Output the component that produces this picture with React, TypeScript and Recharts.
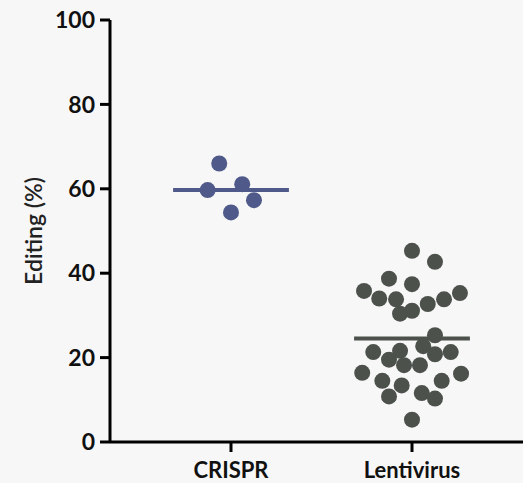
import { ScatterChart, Scatter, XAxis, YAxis, ReferenceLine } from 'recharts';

// group names and their position on the x scale
const categories = ['CRISPR', 'Lentivirus'];
const categoryX = [1, 2];

// CRISPR dots (x is group position + horizontal spread)
const crisprX = [0.935, 0.871, 1.062, 1.127, 1.0];
const crisprY = [66.0, 59.7, 61.1, 57.3, 54.4];

// Lentivirus dots
const lentiX = [
  2.0, 2.127, 1.873, 2.0, 1.735, 1.819, 1.912, 2.265, 2.177, 2.087,
  1.934, 2.0, 2.127, 1.786, 1.934, 2.062, 2.127, 2.214, 1.873, 1.956,
  2.044, 1.725, 1.836, 1.943, 2.164, 2.271, 1.873, 2.054, 2.127, 2.0,
];
const lentiY = [
  45.3, 42.7, 38.7, 37.4, 35.8, 34.0, 33.8, 35.3, 33.8, 32.7,
  30.4, 31.1, 25.3, 21.3, 21.6, 22.7, 20.8, 21.3, 19.5, 18.2,
  18.2, 16.4, 14.5, 13.4, 14.5, 16.2, 10.8, 11.6, 10.3, 5.3,
];

// mean line per group
const means = [59.7, 24.5];

const yTicks = [0, 20, 40, 60, 80, 100];

const BLUE = '#4f5a8a';
const GRAY = '#4c514c';
const FONT = 'Lato, "Open Sans", sans-serif';

const crisprData = crisprX.map((x, i) => ({ x, y: crisprY[i] }));
const lentiData = lentiX.map((x, i) => ({ x, y: lentiY[i] }));

const dot = (color: string) => (props: any) => (
  <circle cx={props.cx} cy={props.cy} r={8} fill={color} />
);

export default function App() {
  const half = 0.32;
  return (
    <div style={{ position: 'absolute', left: 0, top: 0, width: 523, height: 483, background: '#f7f7f7' }}>
      <ScatterChart width={523} height={483} margin={{ top: 20, right: 0, left: 0, bottom: 0 }}>
        <XAxis
          type="number"
          dataKey="x"
          domain={[0.3315, 2.6133]}
          ticks={categoryX}
          tickFormatter={(v: number) => categories[categoryX.indexOf(v)] ?? ''}
          allowDataOverflow
          height={41}
          stroke="#000"
          strokeWidth={3}
          tickSize={10}
          tickMargin={10}
          tick={{ fill: '#111', fontSize: 22, fontWeight: 700, fontFamily: FONT }}
        />
        <YAxis
          type="number"
          dataKey="y"
          domain={[0, 100]}
          ticks={yTicks}
          width={110}
          stroke="#000"
          strokeWidth={3}
          tickSize={10}
          tickMargin={5}
          tick={{ fill: '#111', fontSize: 23, fontWeight: 700, fontFamily: FONT }}
          label={{
            value: 'Editing (%)',
            angle: -90,
            position: 'insideLeft',
            offset: 34,
            style: { fill: '#222', fontSize: 23, fontWeight: 600, fontFamily: FONT, textAnchor: 'middle' },
          }}
        />
        <ReferenceLine
          segment={[{ x: categoryX[0] - half, y: means[0] }, { x: categoryX[0] + half, y: means[0] }]}
          stroke={BLUE}
          strokeWidth={4}
        />
        <ReferenceLine
          segment={[{ x: categoryX[1] - half, y: means[1] }, { x: categoryX[1] + half, y: means[1] }]}
          stroke={GRAY}
          strokeWidth={4}
        />
        <Scatter data={crisprData} shape={dot(BLUE)} isAnimationActive={false} />
        <Scatter data={lentiData} shape={dot(GRAY)} isAnimationActive={false} />
      </ScatterChart>
    </div>
  );
}
